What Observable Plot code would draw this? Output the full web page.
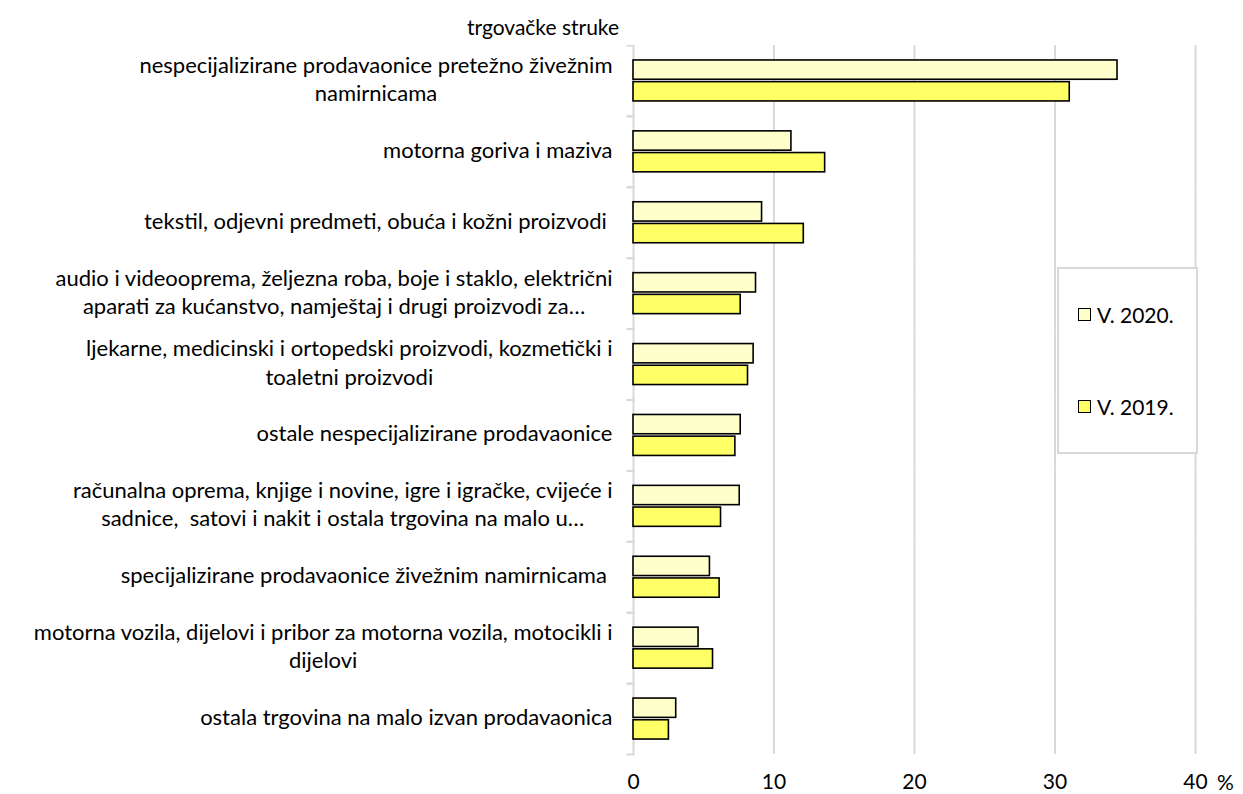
<!DOCTYPE html>
<html>
<head>
<meta charset="utf-8">
<script src="https://cdn.jsdelivr.net/npm/d3@7"></script>
<script src="https://cdn.jsdelivr.net/npm/@observablehq/plot@0.6"></script>
<style>
  html, body { margin: 0; padding: 0; background: #fff; }
  body { width: 1243px; height: 794px; position: relative; font-family: Lato, "Open Sans", sans-serif; color: #000; }
  #title { position: absolute; left: 0; top: 14px; width: 1086px; text-align: center; font-size: 21px; }
  #chart { position: absolute; left: 0; top: 45px; }
  #legend { position: absolute; left: 1057px; top: 267px; width: 137px; height: 183px; border: 2px solid #d9d9d9; background: #fff; font-size: 21px; }
  .item { position: absolute; left: 19px; display: flex; align-items: center; gap: 6px; }
  .sw { width: 11px; height: 11px; border: 1.5px solid #000; display: inline-block; }
  #pct { position: absolute; left: 1217px; top: 769px; font-size: 21px; }
</style>
</head>
<body>
<div id="title">trgovačke struke</div>
<div id="chart"></div>
<div id="legend"></div>
<div id="pct">%</div>
<script>
const categories = [
  "nespecijalizirane prodavaonice pretežno živežnim\nnamirnicama",
  "motorna goriva i maziva",
  "tekstil, odjevni predmeti, obuća i kožni proizvodi ",
  "audio i videooprema, željezna roba, boje i staklo, električni\naparati za kućanstvo, namještaj i drugi proizvodi za…",
  "ljekarne, medicinski i ortopedski proizvodi, kozmetički i\ntoaletni proizvodi",
  "ostale nespecijalizirane prodavaonice",
  "računalna oprema, knjige i novine, igre i igračke, cvijeće i\nsadnice,  satovi i nakit i ostala trgovina na malo u…",
  "specijalizirane prodavaonice živežnim namirnicama ",
  "motorna vozila, dijelovi i pribor za motorna vozila, motocikli i\ndijelovi",
  "ostala trgovina na malo izvan prodavaonica"
];
const seriesNames = ["V. 2020.", "V. 2019."];
const values2020 = [34.45, 11.24, 9.15, 8.72, 8.55, 7.63, 7.56, 5.44, 4.63, 3.04];
const values2019 = [31.05, 13.64, 12.12, 7.63, 8.15, 7.25, 6.23, 6.13, 5.66, 2.52];
const seriesColors = ["#ffffcc", "#ffff66"];
const xTicks = [0, 10, 20, 30, 40];

const data = [];
categories.forEach((c, i) => {
  data.push({category: c, series: seriesNames[0], value: values2020[i]});
  data.push({category: c, series: seriesNames[1], value: values2019[i]});
});

const chart = Plot.plot({
  width: 1243,
  height: 749,
  marginTop: 0,
  marginBottom: 40,
  marginLeft: 633,
  marginRight: 48,
  style: {fontFamily: "Lato, 'Open Sans', sans-serif", fontSize: "22px", color: "#000", background: "#fff"},
  x: {domain: [0, 40], ticks: xTicks},
  fy: {domain: categories, padding: 0, round: false},
  y: {domain: seriesNames, paddingInner: 0.11, paddingOuter: 0.69, round: false, axis: null},
  color: {domain: seriesNames, range: seriesColors},
  marks: [
    Plot.gridX(xTicks, {stroke: "#d9d9d9", strokeOpacity: 1, strokeWidth: 2}),
    Plot.frame({anchor: "top", stroke: "#d9d9d9", strokeWidth: 2, insetLeft: -6, insetRight: 562}),
    Plot.frame({anchor: "bottom", stroke: "#d9d9d9", strokeWidth: 2, insetLeft: -6, insetRight: 562}),
    Plot.barX(data, {x: "value", y: "series", fy: "category", fill: "series", stroke: "#000", strokeWidth: 1.6}),
    Plot.axisX(xTicks, {tickSize: 0, tickPadding: 20, label: null, fontSize: 21}),
    Plot.axisFy({anchor: "left", tickSize: 0, tickPadding: 21, dy: -3, label: null, lineHeight: 1.28, fontSize: 22, tickFormat: d => d})
  ]
});
document.getElementById("chart").appendChild(chart);

// center multi-line category labels relative to each other (right-aligned block)
chart.querySelectorAll("text").forEach(t => {
  const spans = t.querySelectorAll("tspan");
  if (spans.length > 1) {
    const w = t.getBBox().width;
    t.setAttribute("text-anchor", "middle");
    t.style.textAnchor = "middle";
    spans.forEach(s => { s.setAttribute("x", -w / 2); s.setAttribute("text-anchor", "middle"); });
  }
});

const legend = document.getElementById("legend");
const legendTops = [33, 125];
seriesNames.forEach((s, i) => {
  const el = document.createElement("div");
  el.className = "item";
  el.style.top = legendTops[i] + "px";
  el.innerHTML = `<span class="sw" style="background:${seriesColors[i]}"></span><span>${s}</span>`;
  legend.appendChild(el);
});
</script>
</body>
</html>
